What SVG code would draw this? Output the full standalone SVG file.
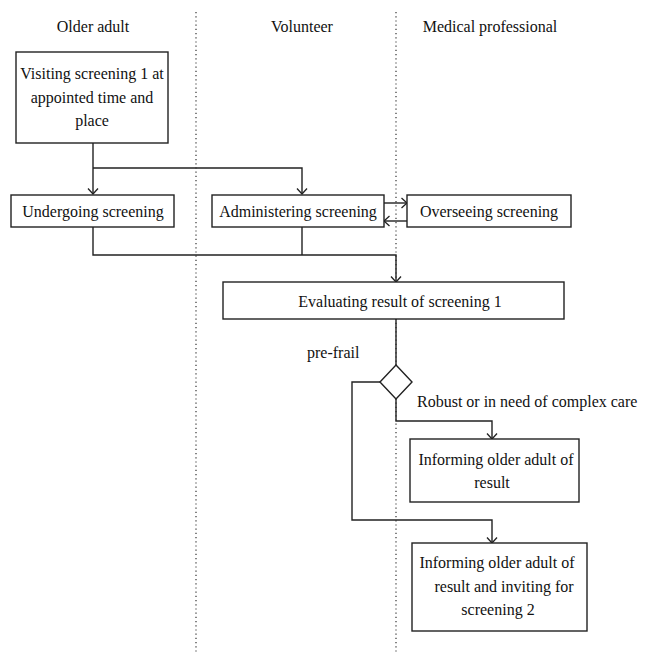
<svg xmlns="http://www.w3.org/2000/svg" width="652" height="662" viewBox="0 0 652 662">
<defs>
<marker id="arr" markerUnits="userSpaceOnUse" markerWidth="12" markerHeight="12" refX="10" refY="6" orient="auto" viewBox="0 0 12 12">
<path d="M4.5,1 L10,6 L4.5,11" fill="none" stroke="#222" stroke-width="1.3"/>
</marker>
</defs>
<style>
text{font-family:"Liberation Serif","Times New Roman",serif;font-size:16px;fill:#111}
.c{text-anchor:middle}
.box{fill:#fff;stroke:#222;stroke-width:1.4}
.ln{fill:none;stroke:#222;stroke-width:1.4}
.lane{stroke:#333;stroke-width:1.2;stroke-dasharray:1.2 3}
</style>
<rect width="652" height="662" fill="#fff"/>
<g id="lanes">
<line class="lane" x1="196" y1="12" x2="196" y2="652"/>
<line class="lane" x1="396" y1="12" x2="396" y2="652"/>
<text class="c" x="93" y="32">Older adult</text>
<text class="c" x="302" y="32">Volunteer</text>
<text class="c" x="490" y="32">Medical professional</text>
</g>
<g id="connectors">
<path class="ln" d="M93,143 V194" marker-end="url(#arr)"/>
<path class="ln" d="M93,168 H302 V194" marker-end="url(#arr)"/>
<path class="ln" d="M384,203 H407" marker-end="url(#arr)"/>
<path class="ln" d="M407,221 H384" marker-end="url(#arr)"/>
<path class="ln" d="M93,227 V255 H396 V282" marker-end="url(#arr)"/>
<path class="ln" d="M302,227 V255"/>
<path class="ln" d="M396,319 V365"/>
<path class="ln" d="M380,382 H352 V520 H492 V543" marker-end="url(#arr)"/>
<path class="ln" d="M396,399 V421 H492 V439" marker-end="url(#arr)"/>
<text x="307" y="358">pre-frail</text>
<text x="417" y="407">Robust or in need of complex care</text>
</g>
<g id="visiting">
<rect class="box" x="16" y="52" width="152" height="91"/>
<text class="c" x="92" y="79">Visiting screening 1 at</text>
<text class="c" x="92" y="103">appointed time and</text>
<text class="c" x="92" y="126">place</text>
</g>
<g id="undergoing">
<rect class="box" x="11" y="195" width="163" height="32"/>
<text class="c" x="93" y="217">Undergoing screening</text>
</g>
<g id="administering">
<rect class="box" x="212" y="195" width="172" height="32"/>
<text class="c" x="298" y="217">Administering screening</text>
</g>
<g id="overseeing">
<rect class="box" x="407" y="195" width="164" height="32"/>
<text class="c" x="489" y="217">Overseeing screening</text>
</g>
<g id="evaluating">
<rect class="box" x="223" y="282" width="341" height="37"/>
<text class="c" x="400" y="307">Evaluating result of screening 1</text>
</g>
<g id="decision">
<polygon class="box" points="396,365 412,382 396,399 380,382"/>
</g>
<g id="inform1">
<rect class="box" x="410" y="439" width="169" height="63"/>
<text class="c" x="496" y="465">Informing older adult of</text>
<text class="c" x="492" y="488">result</text>
</g>
<g id="inform2">
<rect class="box" x="412" y="543" width="175" height="88"/>
<text class="c" x="497" y="568">Informing older adult of</text>
<text class="c" x="504" y="592">result and inviting for</text>
<text class="c" x="498" y="615">screening 2</text>
</g>
</svg>
